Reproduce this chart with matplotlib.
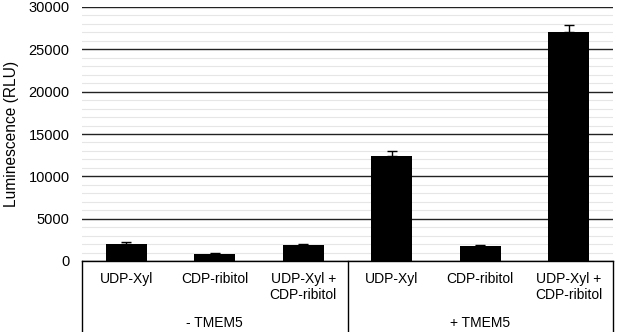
"""Luminescence bar chart, -/+ TMEM5."""

import numpy as np
import matplotlib
matplotlib.use('Agg')
import matplotlib.pyplot as plt
from matplotlib.ticker import MultipleLocator
import matplotlib.transforms as mtransforms

plt.rcParams['font.family'] = ['Liberation Sans', 'DejaVu Sans']

categories = ['UDP-Xyl', 'CDP-ribitol', 'UDP-Xyl +\nCDP-ribitol',
              'UDP-Xyl', 'CDP-ribitol', 'UDP-Xyl +\nCDP-ribitol']
groups = ['- TMEM5', '+ TMEM5']
values = [2000, 880, 1900, 12400, 1750, 27100]
errors = [230, 100, 100, 650, 100, 800]

fig = plt.figure(figsize=(6.17, 3.32), dpi=100)
fig.patch.set_facecolor('white')
ax = fig.add_axes([82/617, 1 - 261/332, (613 - 82)/617, (261 - 7)/332])

x = np.arange(len(values))
ax.bar(x, values, width=0.46, color='black', zorder=3)
ax.errorbar(x, values, yerr=[np.zeros(len(errors)), errors], fmt='none',
            ecolor='black', elinewidth=1, capsize=3.5, capthick=1, zorder=4)

ax.set_xlim(-0.5, len(values) - 0.5)
ax.set_ylim(0, 30000)
ax.yaxis.set_major_locator(MultipleLocator(5000))
ax.yaxis.set_minor_locator(MultipleLocator(1000))
ax.grid(which='minor', axis='y', color='#e6e6e6', lw=0.8, zorder=0)
ax.grid(which='major', axis='y', color='#222222', lw=1.0, zorder=1)
ax.tick_params(axis='y', which='both', length=0, labelsize=10.5, pad=9)
ax.tick_params(axis='x', which='both', length=0, labelbottom=False)
for s in ['top', 'right', 'left']:
    ax.spines[s].set_visible(False)
ax.spines['bottom'].set_color('black')
ax.spines['bottom'].set_linewidth(1.0)
ax.spines['bottom'].set_zorder(5)

ax.set_ylabel('Luminescence (RLU)', fontsize=11.2, labelpad=7)

# labels below the axis
trans = mtransforms.blended_transform_factory(ax.transData, ax.transAxes)
px = 1.0 / (261 - 7)
for xi, label in zip(x, categories):
    ax.text(xi, -(272 - 261) * px, label, transform=trans, ha='center',
            va='top', fontsize=10, linespacing=1.15)
for gi, g in enumerate(groups):
    ax.text(gi * 3 + 1, -(323 - 261) * px, g, transform=trans, ha='center',
            va='center', fontsize=10)

# group separator lines
for xs in [-0.5, 2.5, 5.5]:
    ax.plot([xs, xs], [0, -(332 - 261) * px], transform=trans, color='black',
            lw=1.0, clip_on=False)

fig.savefig('out.png', dpi=100)
